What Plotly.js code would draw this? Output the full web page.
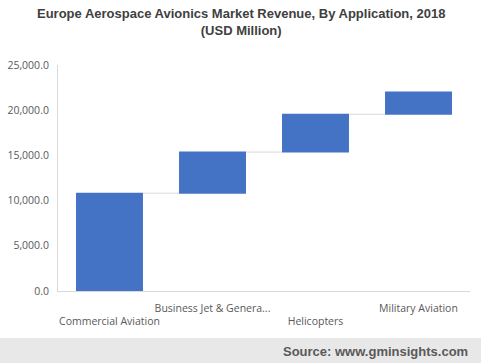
<!DOCTYPE html>
<html>
<head>
<meta charset="utf-8">
<script src="https://cdn.plot.ly/plotly-3.0.1.min.js"></script>
<style>
html,body{margin:0;padding:0;background:#fff;}
#chart{width:481px;height:363px;}
</style>
</head>
<body>
<div id="chart"></div>
<script>
const categories = ["Commercial Aviation", "Business Jet & General Aviation", "Helicopters", "Military Aviation"];
const tickLabels = ["<br>Commercial Aviation", "Business Jet & Genera...", "<br>Helicopters", "Military Aviation"];
const increments = [10820, 4550, 4180, 2450];
const yTicks = [0, 5000, 10000, 15000, 20000, 25000];
const titleText = "<b>Europe Aerospace Avionics Market Revenue, By Application, 2018<br>(USD Million)</b>";
const sourceText = "<b>Source: www.gminsights.com</b>";

const W = 481, H = 363;
const margin = {l: 58, r: 11, t: 65, b: 72};
const plotH = H - margin.t - margin.b;
const plotW = W - margin.l - margin.r;
const py = (pix) => (H - margin.b - pix) / plotH;   // pixel row -> paper y
const px = (pix) => (pix - margin.l) / plotW;       // pixel col -> paper x

const trace = {
  type: "waterfall",
  x: categories,
  y: increments,
  measure: categories.map(() => "relative"),
  base: 0,
  width: 0.65,
  textposition: "none",
  hoverinfo: "none",
  increasing: {marker: {color: "#4472C4", line: {width: 0}}},
  decreasing: {marker: {color: "#4472C4", line: {width: 0}}},
  totals: {marker: {color: "#4472C4", line: {width: 0}}},
  connector: {line: {color: "#d9d9d9", width: 1}, mode: "between"}
};

const layout = {
  width: W, height: H,
  margin: margin,
  paper_bgcolor: "#ffffff",
  plot_bgcolor: "#ffffff",
  showlegend: false,
  xaxis: {
    type: "category",
    categoryorder: "array",
    categoryarray: categories,
    tickvals: categories,
    ticktext: tickLabels,
    showline: true, linecolor: "#d9d9d9", linewidth: 1,
    showgrid: false, zeroline: false, ticks: "",
    ticklabelstandoff: 7,
    tickfont: {family: "Open Sans, sans-serif", size: 10.5, color: "#595959"},
    tickangle: 0,
    fixedrange: true
  },
  yaxis: {
    range: [0, 25000],
    tickvals: yTicks,
    tickformat: ",.1f",
    showline: true, linecolor: "#d9d9d9", linewidth: 1,
    showgrid: false, zeroline: false, ticks: "",
    ticklabelstandoff: 6,
    tickfont: {family: "Open Sans, sans-serif", size: 10.5, color: "#595959"},
    fixedrange: true
  },
  shapes: [{
    type: "rect", xref: "paper", yref: "paper", layer: "below",
    x0: px(0), x1: px(W),
    y0: py(H), y1: py(338),
    fillcolor: "#e8e8e8", line: {width: 0}
  }],
  annotations: [{
    text: titleText,
    xref: "paper", yref: "paper",
    x: px(240.5), xanchor: "center",
    y: py(4), yanchor: "top",
    showarrow: false,
    font: {family: "Liberation Sans, Arial, sans-serif", size: 13, color: "#404040"}
  }, {
    text: sourceText,
    xref: "paper", yref: "paper",
    x: px(470), xanchor: "right",
    y: py(351), yanchor: "middle",
    showarrow: false,
    font: {family: "Liberation Sans, Arial, sans-serif", size: 13, color: "#595959"}
  }]
};

Plotly.newPlot("chart", [trace], layout, {displayModeBar: false, staticPlot: true});
</script>
</body>
</html>
